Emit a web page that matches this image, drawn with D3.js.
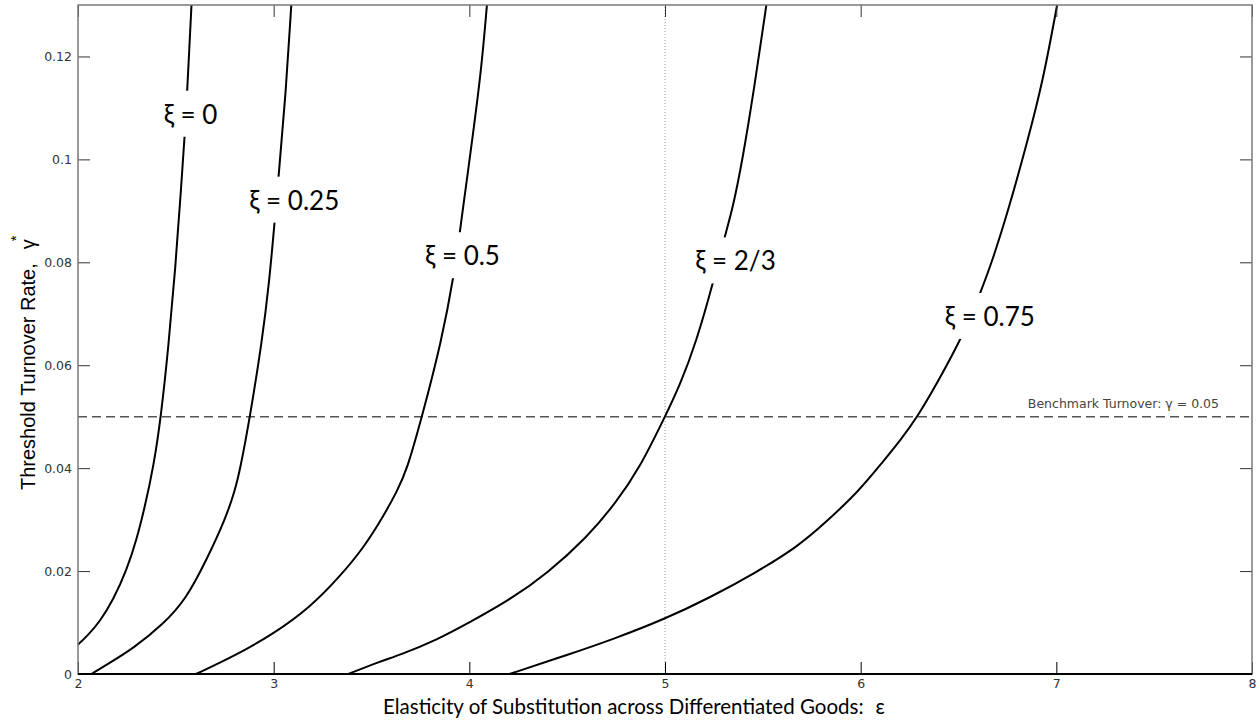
<!DOCTYPE html>
<html>
<head>
<meta charset="utf-8">
<script src="https://cdn.jsdelivr.net/npm/d3@7"></script>
<style>
  body { margin: 0; background: #fff; }
  svg { display: block; }
</style>
</head>
<body>
<div id="chart"></div>
<script>
// curves: epsilon (x) and threshold turnover gamma* (y)
const eps0   = [2.0, 2.05, 2.112, 2.18, 2.249, 2.30, 2.34, 2.387, 2.424, 2.462, 2.498, 2.527, 2.547, 2.559, 2.58];
const gam0   = [0.0057, 0.0075, 0.0102, 0.0144, 0.0202, 0.0262, 0.0322, 0.0405, 0.050, 0.0635, 0.079, 0.0945, 0.1055, 0.114, 0.13];

const eps25  = [2.068, 2.164, 2.283, 2.437, 2.555, 2.657, 2.752, 2.801, 2.83, 2.879, 2.94, 2.977, 3.006, 3.025, 3.064, 3.09];
const gam25  = [0, 0.0022, 0.0050, 0.0097, 0.0147, 0.0222, 0.030, 0.0355, 0.040, 0.050, 0.0645, 0.076, 0.0883, 0.0967, 0.1139, 0.13];

const eps50  = [2.603, 2.794, 3.0, 3.19, 3.33, 3.46, 3.56, 3.63, 3.68, 3.758, 3.857, 3.924, 3.953, 4.02, 4.063, 4.09];
const gam50  = [0, 0.0034, 0.0078, 0.0131, 0.0186, 0.0245, 0.0306, 0.0355, 0.0395, 0.050, 0.0645, 0.078, 0.0864, 0.1052, 0.1181, 0.13];

const eps67  = [3.382, 3.54, 3.645, 3.833, 4.0, 4.207, 4.40, 4.60, 4.75, 4.87, 5.0, 5.075, 5.16, 5.25, 5.303, 5.348, 5.396, 5.455, 5.518];
const gam67  = [0, 0.0024, 0.0037, 0.0066, 0.0100, 0.0144, 0.0196, 0.0265, 0.0333, 0.040, 0.050, 0.056, 0.0645, 0.0766, 0.0847, 0.0908, 0.0999, 0.1136, 0.13];

const eps75  = [4.205, 4.5, 4.738, 5.0, 5.227, 5.46, 5.68, 5.814, 5.99, 6.108, 6.205, 6.29, 6.382, 6.529, 6.613, 6.676, 6.76, 6.85, 6.93, 7.004];
const gam75  = [0, 0.0037, 0.0068, 0.0107, 0.0148, 0.0196, 0.0248, 0.0292, 0.0355, 0.041, 0.0455, 0.050, 0.0559, 0.0662, 0.0742, 0.0806, 0.0908, 0.1032, 0.1149, 0.13];

// inline labels: text and where they sit
const labelText = ["ξ = 0", "ξ = 0.25", "ξ = 0.5", "ξ = 2/3", "ξ = 0.75"];
const labelEps  = [2.575, 3.105, 3.965, 5.36, 6.66];
const labelGam  = [0.1087, 0.0920, 0.0812, 0.0802, 0.0694];

const xTicks = [2, 3, 4, 5, 6, 7, 8];
const yTicks = [0, 0.02, 0.04, 0.06, 0.08, 0.1, 0.12];
const benchmark = 0.05;
const refEps = 5;

const width = 1260, height = 721;
const margin = {top: 5, right: 8, bottom: 47, left: 78};

const svg = d3.select('#chart').append('svg')
  .attr('width', width)
  .attr('height', height);

const x = d3.scaleLinear().domain([2, 8]).range([margin.left, width - margin.right]);
const y = d3.scaleLinear().domain([0, 0.13]).range([height - margin.bottom, margin.top]);

const tickFmt = d => d === 0 ? '0' : String(+d.toFixed(2));

// reference lines
svg.append('line')
  .attr('x1', x(refEps)).attr('x2', x(refEps))
  .attr('y1', y(0)).attr('y2', y(0.13))
  .attr('stroke', '#9a9a9a').attr('stroke-width', 1)
  .attr('stroke-dasharray', '1,2');

svg.append('line')
  .attr('x1', x(2)).attr('x2', x(8))
  .attr('y1', y(benchmark)).attr('y2', y(benchmark))
  .attr('stroke', '#555').attr('stroke-width', 1.4)
  .attr('stroke-dasharray', '9,5');

svg.append('text')
  .attr('x', 1219).attr('y', y(benchmark) - 9)
  .attr('text-anchor', 'end')
  .style('font-family', 'DejaVu Sans, sans-serif')
  .style('font-size', '12.5px')
  .attr('fill', '#444')
  .text('Benchmark Turnover: γ = 0.05');

// curves
const series = [[eps0, gam0], [eps25, gam25], [eps50, gam50], [eps67, gam67], [eps75, gam75]];
const line = d3.line()
  .x(d => x(d[0]))
  .y(d => y(d[1]))
  .curve(d3.curveBasis);

svg.append('g').selectAll('path')
  .data(series)
  .enter().append('path')
    .attr('d', s => line(d3.zip(s[0], s[1])))
    .attr('fill', 'none')
    .attr('stroke', '#000')
    .attr('stroke-width', 2);

// labels with white patches that break the curves
const lab = svg.append('g').selectAll('g')
  .data(labelText)
  .enter().append('g')
    .attr('transform', (d, i) => `translate(${x(labelEps[i])},${y(labelGam[i])})`);

lab.append('rect')
  .attr('fill', '#fff');

lab.append('text')
  .attr('text-anchor', 'middle')
  .attr('dy', '0.35em')
  .style('font-family', 'Lato, sans-serif')
  .style('font-size', '26px')
  .attr('fill', '#000')
  .text(d => d);

lab.each(function () {
  const g = d3.select(this);
  const b = g.select('text').node().getBBox();
  g.select('rect')
    .attr('x', b.x - 3).attr('y', b.y - 7)
    .attr('width', b.width + 6).attr('height', b.height + 14);
});

// axes (ticks point inward, mirrored on top and right)
const axStyle = (g, col) => {
  g.select('.domain').remove();
  g.selectAll('.tick line').attr('stroke', col);
  g.selectAll('.tick text')
    .style('font-family', 'DejaVu Sans, sans-serif')
    .style('font-size', '12.5px')
    .attr('fill', '#333');
};

svg.append('g')
  .attr('transform', `translate(0,${y(0)})`)
  .call(d3.axisBottom(x).tickValues(xTicks).tickFormat(d3.format('d')).tickSize(-12).tickPadding(5))
  .call(g => axStyle(g, '#000'));

svg.append('g')
  .attr('transform', `translate(0,${y(0.13)})`)
  .call(d3.axisTop(x).tickValues(xTicks).tickSize(-12).tickFormat(''))
  .call(g => axStyle(g, '#333'));

svg.append('g')
  .attr('transform', `translate(${x(2)},0)`)
  .call(d3.axisLeft(y).tickValues(yTicks).tickFormat(tickFmt).tickSize(-12).tickPadding(6))
  .call(g => axStyle(g, '#333'));

svg.append('g')
  .attr('transform', `translate(${x(8)},0)`)
  .call(d3.axisRight(y).tickValues(yTicks).tickSize(-12).tickFormat(''))
  .call(g => axStyle(g, '#333'));

// frame
svg.append('rect')
  .attr('x', x(2)).attr('y', y(0.13))
  .attr('width', x(8) - x(2)).attr('height', y(0) - y(0.13))
  .attr('fill', 'none').attr('stroke', '#7a7a7a').attr('stroke-width', 1.5);

svg.append('line')
  .attr('x1', x(2)).attr('x2', x(8))
  .attr('y1', y(0)).attr('y2', y(0))
  .attr('stroke', '#000').attr('stroke-width', 2);

// axis titles
const xt = svg.append('text')
  .attr('x', 383).attr('y', 714)
  .style('font-family', 'Lato, sans-serif')
  .style('font-size', '20.5px')
  .attr('fill', '#000');
xt.append('tspan').text('Elasticity of Substitution across Differentiated Goods:');
xt.append('tspan').attr('dx', 12).text('ε');

const yt = svg.append('text')
  .attr('transform', 'translate(35,490) rotate(-90)')
  .style('font-family', 'Liberation Sans, Arial, sans-serif')
  .style('font-size', '20px')
  .attr('fill', '#000');
yt.append('tspan').text('Threshold Turnover Rate,');
yt.append('tspan').attr('dx', 14).text('γ');
yt.append('tspan').attr('dy', -14).attr('dx', -2).style('font-size', '15px').text('*');
</script>
</body>
</html>
